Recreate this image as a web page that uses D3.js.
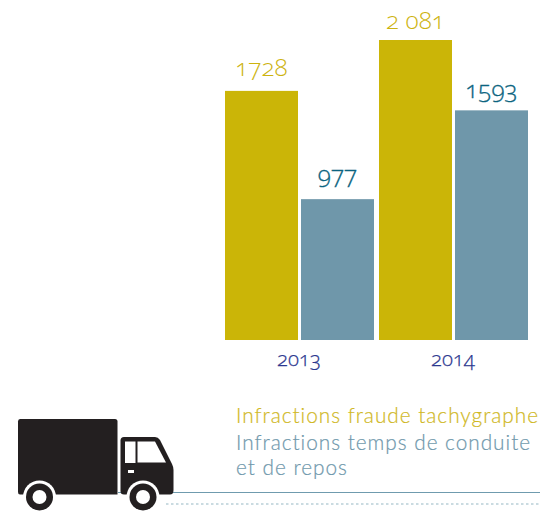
<!DOCTYPE html>
<html><head><meta charset="utf-8">
<script src="https://cdn.jsdelivr.net/npm/d3@7"></script>
<style>
html,body{margin:0;padding:0;background:#fff}
svg{display:block}
text{font-family:"Open Sans",Lato,sans-serif;font-weight:300;font-variant-numeric:oldstyle-nums}
</style></head><body><svg id="c" width="540" height="515"></svg>
<script>
const years = ["2013","2014"];
const fraude = [1728,2081];
const temps = [977,1593];
const fraudeLabels = ["1728","2 081"];
const tempsLabels = ["977","1593"];
const legendLines = [["Infractions fraude tachygraphe"],["Infractions temps de conduite","et de repos"]];
const colors = ["#cbb507","#6f97aa"];
const labelColors = ["#cdb30f","#0b6480"];
const legendColors = ["#d0b81f","#6f98ac"];
const labelGaps = [[15,11],[16,12]];

const svg = d3.select("#c");
const x0 = d3.scaleBand().domain(years).range([222,530]);
const x1 = d3.scaleBand().domain([0,1]).range([3,152]).paddingInner(3/76);
const y = d3.scaleLinear().domain([0,2081]).range([340,40]);

[fraude,temps].forEach((vals,s)=>{
  const labels = s===0?fraudeLabels:tempsLabels;
  svg.append("g").selectAll("rect").data(vals).join("rect")
    .attr("x",(d,i)=>x0(years[i])+x1(s)).attr("width",x1.bandwidth())
    .attr("y",d=>y(d)).attr("height",d=>y(0)-y(d)).attr("fill",colors[s]);
  svg.append("g").selectAll("text").data(vals).join("text")
    .attr("x",(d,i)=>x0(years[i])+x1(s)+x1.bandwidth()/2)
    .attr("y",(d,i)=>y(d)-labelGaps[s][i]).attr("text-anchor","middle")
    .attr("font-size",24.5).attr("fill",labelColors[s])
    .attr("stroke",s===0?"none":labelColors[s]).attr("stroke-width",0.3)
    .text((d,i)=>labels[i]);
});
const axis = d3.axisBottom(x0).tickSize(0).tickPadding(0);
const ax = svg.append("g").attr("transform","translate(0,340)").call(axis);
ax.select(".domain").remove();
ax.selectAll("text").attr("y",26).attr("dy",0).attr("font-size",20.5).attr("fill","#2b378f")
  .attr("stroke","#2b378f").attr("stroke-width",0.25)
  .style("font-family",'"Open Sans"').style("font-weight",300);

// ground lines
svg.append("line").attr("x1",118).attr("x2",540).attr("y1",492.5).attr("y2",492.5).attr("stroke","#6f9bae").attr("stroke-width",1);
svg.append("line").attr("x1",166).attr("x2",540).attr("y1",504).attr("y2",504).attr("stroke","#b9cfd8").attr("stroke-width",1.5).attr("stroke-dasharray","2.5 2.5");

// legend
const lineY = [[423],[450,475]];
legendLines.forEach((lines,s)=>{
  lines.forEach((line,i)=>svg.append("text").attr("x",236).attr("y",lineY[s][i])
    .attr("font-size",20.8).attr("letter-spacing",0.98)
    .attr("fill",legendColors[s])
    .style("font-family","Lato").style("font-weight",300).style("stroke",legendColors[s]).style("stroke-width",0.2).text(line));
});

// truck
const tr = svg.append("g");
const ink = "#231f20";
tr.append("path").attr("fill",ink).attr("d","M20 419H115Q117.500 419 117.500 421.500V494.500H20Q18 494.500 18 492V421.500Q18 419 20 419Z");
tr.append("path").attr("fill",ink).attr("d","M124 437H155Q158 437 160 440L172 464Q173.500 467 173.500 470V490Q173.500 494.500 170 494.500H124Q120.500 494.500 120.500 491V440.500Q120.500 437 124 437Z");
tr.append("path").attr("fill","#fff").attr("d","M125 441.500H135.500V463H125Z");
tr.append("path").attr("fill","#fff").attr("d","M137.500 441.500H155L166 462.500H137.500Z");
tr.append("rect").attr("x",128).attr("y",470).attr("width",6).attr("height",3).attr("fill","#fff");
[39.500,143].forEach(cx=>{
  tr.append("circle").attr("cx",cx).attr("cy",497).attr("r",16.500).attr("fill","#fff");
  tr.append("circle").attr("cx",cx).attr("cy",497).attr("r",13.500).attr("fill",ink);
  tr.append("circle").attr("cx",cx).attr("cy",497).attr("r",7).attr("fill","#fff");
});
</script></body></html>
